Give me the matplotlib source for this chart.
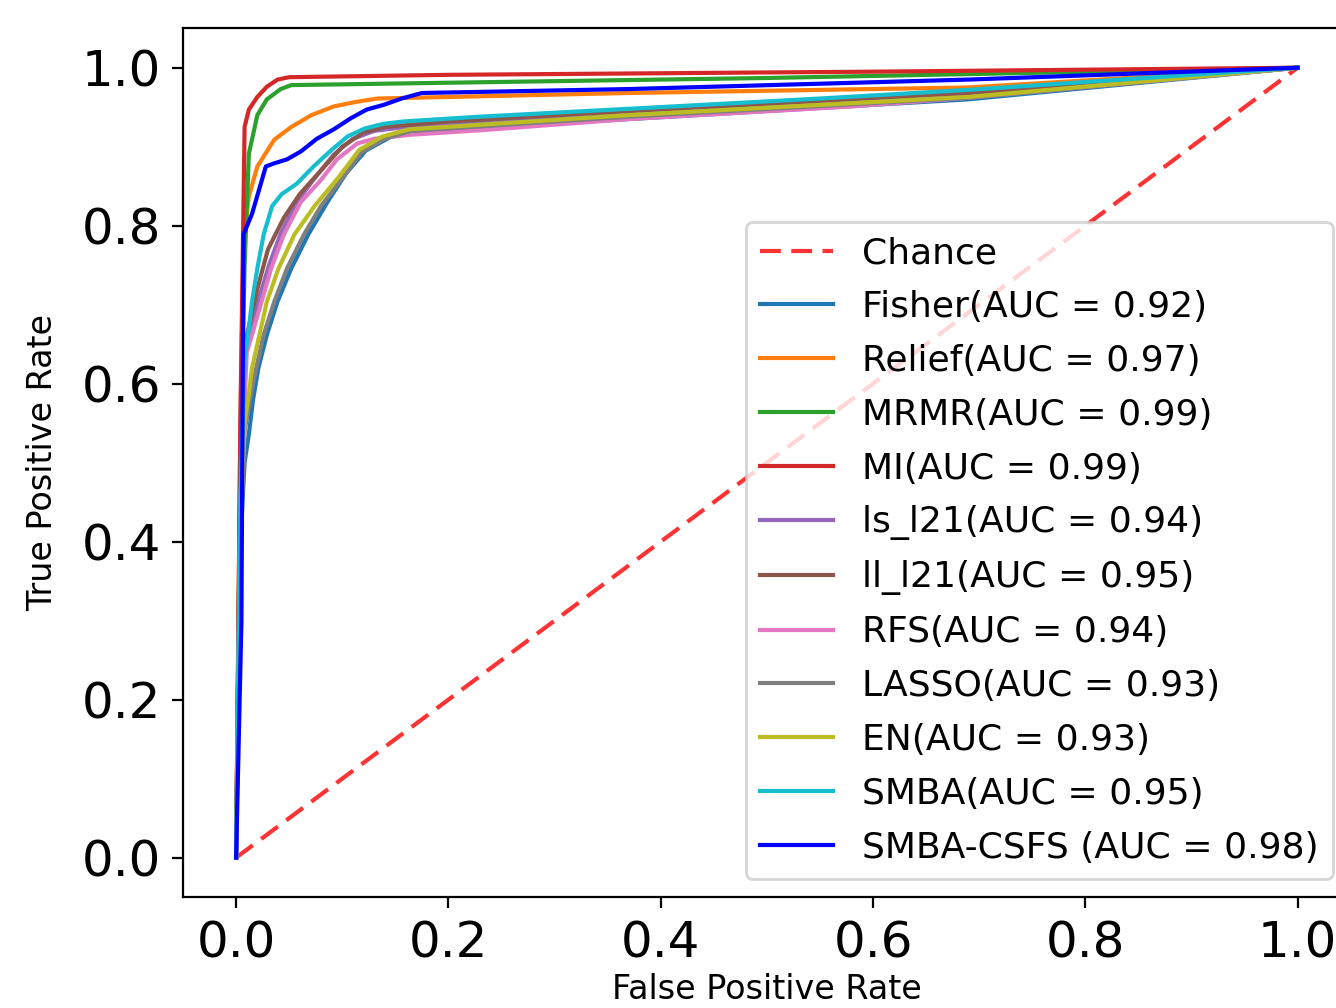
import matplotlib
matplotlib.use('Agg')
import matplotlib.pyplot as plt

# ROC curves
methods = ['Fisher', 'Relief', 'MRMR', 'MI', 'ls_l21', 'll_l21', 'RFS', 'LASSO', 'EN', 'SMBA', 'SMBA-CSFS']
aucs = [0.92, 0.97, 0.99, 0.99, 0.94, 0.95, 0.94, 0.93, 0.93, 0.95, 0.98]
colors = ['tab:blue', 'tab:orange', 'tab:green', 'tab:red', 'tab:purple', 'tab:brown',
          'tab:pink', 'tab:gray', 'tab:olive', 'tab:cyan', 'b']

fpr_fisher = [0, 0.004, 0.008, 0.012, 0.016, 0.021, 0.029, 0.039, 0.052, 0.068, 0.086, 0.104, 0.122, 0.145, 0.17, 0.37, 0.69, 1.0]
tpr_fisher = [0, 0.4, 0.5, 0.536, 0.58, 0.62, 0.662, 0.704, 0.746, 0.789, 0.83, 0.867, 0.895, 0.912, 0.92, 0.935, 0.96, 1.0]

fpr_relief = [0, 0.004, 0.007, 0.012, 0.02, 0.036, 0.052, 0.071, 0.092, 0.114, 0.133, 0.37, 0.69, 1.0]
tpr_relief = [0, 0.55, 0.78, 0.837, 0.875, 0.909, 0.925, 0.94, 0.951, 0.957, 0.961, 0.968, 0.975, 1.0]

fpr_mrmr = [0, 0.004, 0.008, 0.012, 0.02, 0.029, 0.042, 0.052, 0.2, 0.5, 1.0]
tpr_mrmr = [0, 0.5, 0.75, 0.891, 0.94, 0.96, 0.973, 0.978, 0.981, 0.987, 1.0]

fpr_mi = [0, 0.004, 0.008, 0.012, 0.02, 0.029, 0.039, 0.05, 0.2, 0.6, 1.0]
tpr_mi = [0, 0.55, 0.925, 0.947, 0.963, 0.976, 0.985, 0.988, 0.991, 0.995, 1.0]

fpr_ls = [0, 0.004, 0.009, 0.014, 0.022, 0.031, 0.042, 0.057, 0.075, 0.092, 0.11, 0.13, 0.16, 0.37, 0.69, 1.0]
tpr_ls = [0, 0.45, 0.64, 0.67, 0.71, 0.75, 0.79, 0.83, 0.862, 0.89, 0.91, 0.92, 0.925, 0.94, 0.963, 1.0]

fpr_ll = [0, 0.004, 0.01, 0.02, 0.03, 0.045, 0.06, 0.08, 0.1, 0.12, 0.14, 0.2, 0.37, 0.69, 1.0]
tpr_ll = [0, 0.5, 0.66, 0.72, 0.77, 0.81, 0.84, 0.87, 0.9, 0.918, 0.925, 0.932, 0.945, 0.968, 1.0]

fpr_rfs = [0, 0.004, 0.01, 0.015, 0.024, 0.033, 0.045, 0.061, 0.08, 0.095, 0.114, 0.13, 0.163, 0.232, 0.37, 0.58, 0.69, 1.0]
tpr_rfs = [0, 0.45, 0.64, 0.662, 0.704, 0.746, 0.789, 0.83, 0.858, 0.884, 0.904, 0.91, 0.915, 0.921, 0.935, 0.951, 0.962, 1.0]

fpr_lasso = [0, 0.004, 0.008, 0.014, 0.019, 0.026, 0.036, 0.048, 0.064, 0.08, 0.1, 0.118, 0.14, 0.165, 0.37, 0.69, 1.0]
tpr_lasso = [0, 0.4, 0.54, 0.587, 0.62, 0.662, 0.704, 0.746, 0.789, 0.825, 0.86, 0.893, 0.91, 0.92, 0.938, 0.962, 1.0]

fpr_en = [0, 0.004, 0.008, 0.012, 0.015, 0.022, 0.029, 0.04, 0.055, 0.074, 0.097, 0.116, 0.138, 0.163, 0.37, 0.69, 1.0]
tpr_en = [0, 0.4, 0.55, 0.587, 0.62, 0.662, 0.704, 0.746, 0.789, 0.825, 0.862, 0.896, 0.913, 0.922, 0.94, 0.963, 1.0]

fpr_smba = [0, 0.004, 0.008, 0.012, 0.015, 0.02, 0.026, 0.034, 0.043, 0.057, 0.073, 0.09, 0.105, 0.121, 0.139, 0.158, 0.229, 0.37, 0.55, 0.69, 1.0]
tpr_smba = [0, 0.45, 0.63, 0.67, 0.704, 0.746, 0.789, 0.825, 0.84, 0.853, 0.875, 0.896, 0.913, 0.923, 0.929, 0.932, 0.938, 0.948, 0.961, 0.972, 1.0]

fpr_csfs = [0, 0.005, 0.007, 0.015, 0.028, 0.036, 0.048, 0.061, 0.076, 0.092, 0.108, 0.123, 0.139, 0.156, 0.175, 0.37, 0.69, 1.0]
tpr_csfs = [0, 0.3, 0.789, 0.815, 0.875, 0.879, 0.884, 0.894, 0.91, 0.922, 0.936, 0.947, 0.953, 0.961, 0.968, 0.973, 0.985, 1.0]

fprs = [fpr_fisher, fpr_relief, fpr_mrmr, fpr_mi, fpr_ls, fpr_ll, fpr_rfs, fpr_lasso, fpr_en, fpr_smba, fpr_csfs]
tprs = [tpr_fisher, tpr_relief, tpr_mrmr, tpr_mi, tpr_ls, tpr_ll, tpr_rfs, tpr_lasso, tpr_en, tpr_smba, tpr_csfs]

fig = plt.figure(figsize=(6.68, 5.04), dpi=200)
ax = fig.add_axes([0.137, 0.110, 0.874, 0.862])

ax.plot([0, 1], [0, 1], linestyle=(0, (5, 2.5)), lw=1.5, color='r', alpha=0.8, label='Chance')
for i in range(len(methods)):
    sep = ' ' if methods[i] == 'SMBA-CSFS' else ''
    ax.plot(fprs[i], tprs[i], color=colors[i], lw=1.5,
            label=f'{methods[i]}{sep}(AUC = {aucs[i]:.2f})')

ax.set_xlim(-0.05, 1.05)
ax.set_ylim(-0.05, 1.05)
ax.tick_params(labelsize=18, length=4, pad=4)
ax.set_xlabel('False Positive Rate', fontsize=12, labelpad=2)
ax.set_ylabel('True Positive Rate', fontsize=12, labelpad=8)
ax.legend(loc='lower right', fontsize=13, labelspacing=0.55)

plt.savefig('out.png', dpi=200)
